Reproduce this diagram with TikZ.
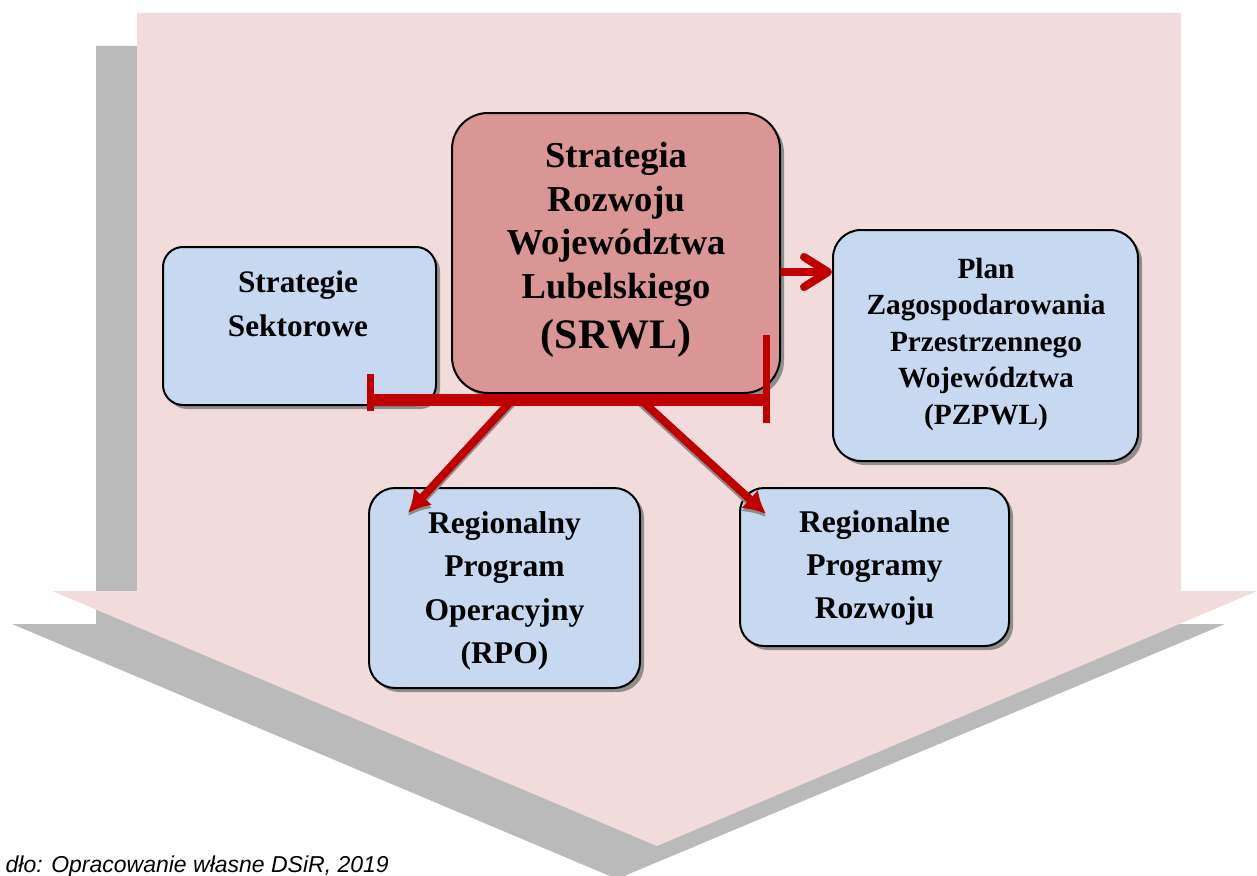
\documentclass[tikz,border=0pt]{standalone}
\usepackage{fontspec}
\setmainfont{Liberation Serif}
\newfontfamily\capfont{Liberation Sans}
\usetikzlibrary{arrows.meta,shadows}
\definecolor{pinkbg}{HTML}{F2DCDB}
\definecolor{bigshadow}{HTML}{BABABA}
\definecolor{boxblue}{HTML}{C6D9F1}
\definecolor{boxred}{HTML}{D99694}
\definecolor{redline}{HTML}{C00000}
\definecolor{arrshadow}{HTML}{8C8C8C}
\begin{document}
\begin{tikzpicture}[x=1pt,y=-1pt,
  box/.style={draw=black, line width=2pt, inner sep=0pt,
    drop shadow={shadow xshift=4pt, shadow yshift=-4pt, fill=black!50, opacity=0.85}},
  txt/.style={align=center, inner sep=0pt, font=\bfseries},
  redbar/.style={draw=redline, line width=12pt},
  redcap/.style={draw=redline, line width=7pt},
  diag/.style={draw=redline, line width=8pt, -{Latex[length=22pt,width=25pt]}},
  diagsh/.style={draw=arrshadow, line width=8pt, -{Latex[length=22pt,width=25pt]}},
  barb/.style={draw=redline, line width=8pt, -{Straight Barb[length=24pt,width=30pt,round]}}
]
\useasboundingbox (0,0) rectangle (1257,875);
\clip (0,0) rectangle (1257,875);
% big arrow and its shadow
\fill[bigshadow] (96,46) -- (1141,46) -- (1141,624) -- (1225,624) -- (617,879) -- (12,624) -- (96,624) -- cycle;
\fill[pinkbg] (137,13) -- (1181,13) -- (1181,591) -- (1257,591) -- (657,846) -- (52,591) -- (137,591) -- cycle;

% boxes
\node[box, fill=boxblue, rounded corners=20pt, minimum width=273pt, minimum height=158pt] (ss) at (299.5,326) {};
\node[box, fill=boxred, rounded corners=36pt, minimum width=328pt, minimum height=280pt] (srwl) at (616,253) {};
\node[box, fill=boxblue, rounded corners=28pt, minimum width=305pt, minimum height=231pt] (pz) at (985.5,345.5) {};
\node[box, fill=boxblue, rounded corners=26pt, minimum width=271pt, minimum height=200pt] (rpo) at (504.5,588) {};
\node[box, fill=boxblue, rounded corners=24pt, minimum width=269pt, minimum height=158pt] (rpr) at (874.5,567) {};

% texts
\node[txt, font=\bfseries\fontsize{31.3pt}{44pt}\selectfont] (sst) at (298,304) {Strategie\\Sektorowe};
\node[txt, font=\bfseries\fontsize{36.5pt}{43.5pt}\selectfont] (srwlt) at (616,250) {Strategia\\Rozwoju\\Województwa\\Lubelskiego\\[7pt]{\fontsize{42pt}{51pt}\selectfont (SRWL)}};
\node[txt, font=\bfseries\fontsize{29.3pt}{36.5pt}\selectfont] (pzt) at (986,344) {Plan\\Zagospodarowania\\Przestrzennego\\Województwa\\(PZPWL)};
\node[txt, font=\bfseries\fontsize{31.6pt}{43.5pt}\selectfont] (rpot) at (504.5,591) {Regionalny\\Program\\Operacyjny\\(RPO)};
\node[txt, font=\bfseries\fontsize{31.6pt}{43pt}\selectfont] (rprt) at (874.5,568) {Regionalne\\Programy\\Rozwoju};

% connector coordinates
\coordinate (barL) at (366.5,400);
\coordinate (barR) at (770,400);
\coordinate (capLt) at (370,374);
\coordinate (capLb) at (370,411);
\coordinate (capRt) at (766.5,335);
\coordinate (capRb) at (766.5,423);
\coordinate (s1) at (512,400);
\coordinate (t1) at (408,513);
\coordinate (s2) at (641,400);
\coordinate (t2) at (766,514);
\coordinate (ya) at (0,272);

% arrow shadows
\draw[diagsh] ([shift={(0,3)}]s1) -- ([shift={(0,3)}]t1);
\draw[diagsh] ([shift={(0,3)}]s2) -- ([shift={(0,3)}]t2);

% red connectors
\draw[redbar] (barL) -- (barR);
\draw[redcap] (capLt) -- (capLb);
\draw[redcap] (capRt) -- (capRb);
\draw[diag] (s1) -- (t1);
\draw[diag] (s2) -- (t2);
\draw[barb] (srwl.east |- ya) -- (pz.west |- ya);

% caption
\node[anchor=base east, inner sep=0pt, font=\capfont\itshape\fontsize{23pt}{27pt}\selectfont] (cap) at (389,872) {dło: Opracowanie własne DSiR, 2019};
\end{tikzpicture}
\end{document}
